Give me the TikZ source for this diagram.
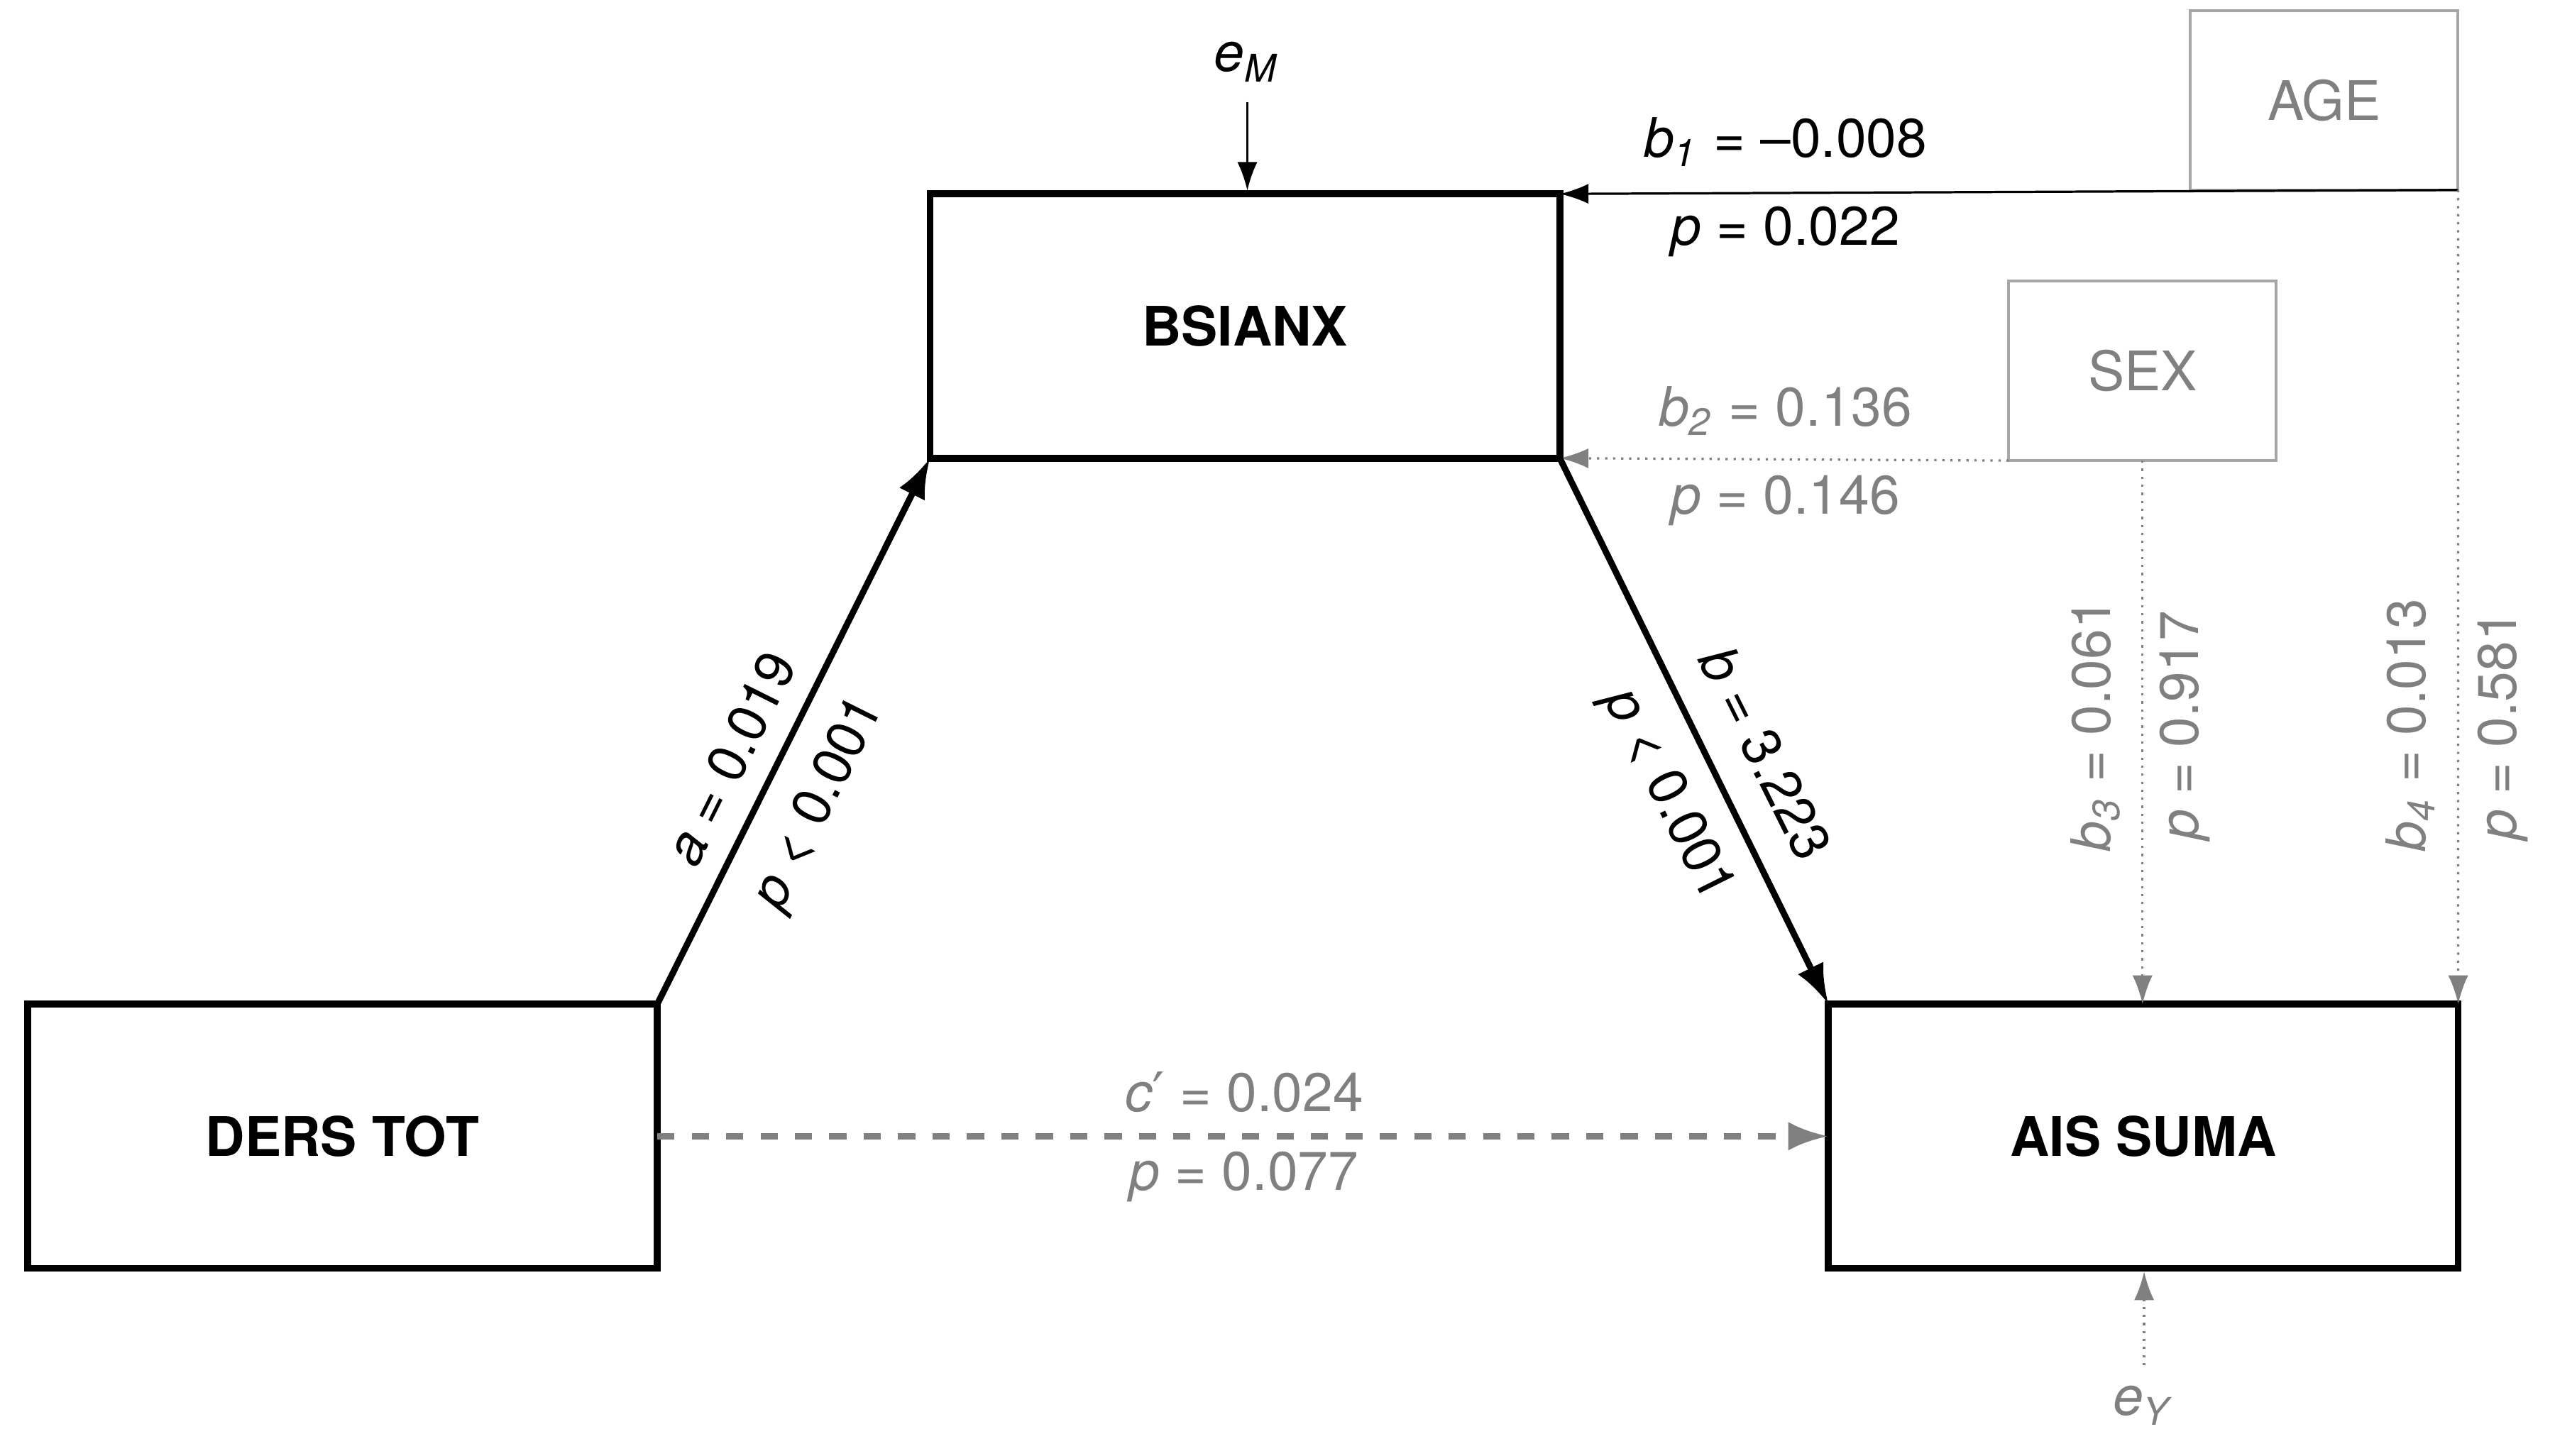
\documentclass[tikz,border=0pt]{standalone}
\usepackage{fontspec}
\setmainfont{TeX Gyre Heros}
\newfontfamily\djv{DejaVu Sans}
\usetikzlibrary{arrows.meta}
\definecolor{gr}{HTML}{808080}
\newcommand{\vi}[1]{\textit{#1}}
\newcommand{\vs}[2]{\textit{#1}\textsubscript{\textit{#2}}}
\begin{document}
\begin{tikzpicture}[x=0.01cm,y=-0.01cm,font=\fontsize{9.5}{11}\selectfont,
  mainbox/.style={draw,line width=1.2pt,minimum width=3.86cm,minimum height=1.62cm,inner sep=0pt,outer sep=0pt,font=\fontsize{9.5}{11}\selectfont\bfseries},
  covbox/.style={draw=gr!70,line width=0.5pt,minimum width=1.64cm,minimum height=1.10cm,inner sep=0pt,outer sep=0pt,text=gr},
  thick arr/.style={line width=1.1pt,-{Latex[length=7pt,width=5pt]}},
  thin arr/.style={line width=0.4pt,-{Latex[length=5pt,width=3.5pt]}},
  lbl/.style={inner sep=1pt}]
\useasboundingbox (0,0) rectangle (1567,893);
\node[mainbox] (M) at (763.5,200) {BSIANX};
\node[mainbox] (X) at (210,697) {DERS TOT};
\node[mainbox] (Y) at (1314.5,697) {AIS SUMA};
\node[covbox] (AGE) at (1425.5,61.5) {AGE};
\node[covbox] (SEX) at (1314,227.5) {SEX};
\node (eM) at (765,38) {\vs{e}{M}};
\node[text=gr] (eY) at (1315,862) {\vs{e}{Y}};
\coordinate (mtop) at (765,117);
\coordinate (ytop) at (1315,780);
\draw[thin arr] (eM.south) -- (mtop);
\draw[thin arr,gr,densely dotted] (eY.north) -- (ytop);
\draw[thin arr] (AGE.south east) -- (M.north east);
\draw[thin arr,gr,densely dotted] (SEX.south west) -- (M.south east);
\draw[thin arr,gr,densely dotted] (SEX.south) -- (SEX.south |- Y.north);
\draw[thin arr,gr,densely dotted] (AGE.south east) -- (Y.north east);
\draw[thick arr] (X.north east) -- (M.south west);
\draw[thick arr] (M.south east) -- (Y.north west);
\draw[line width=1.1pt,gr,dashed,-{Latex[length=7pt,width=5pt]}] (X.east) -- (Y.west);
\node[lbl] at (1095,87) {\vs{b}{1} = –0.008};
\node[lbl] at (1095,142) {\vi{p} = 0.022};
\node[lbl,text=gr] at (1095,252) {\vs{b}{2} = 0.136};
\node[lbl,text=gr] at (1095,307) {\vi{p} = 0.146};
\node[lbl,text=gr,rotate=90] at (1285,445) {\vs{b}{3} = 0.061};
\node[lbl,text=gr,rotate=90] at (1340,445) {\vi{p} = 0.917};
\node[lbl,text=gr,rotate=90] at (1478,445) {\vs{b}{4} = 0.013};
\node[lbl,text=gr,rotate=90] at (1535,445) {\vi{p} = 0.581};
\node[lbl,rotate=63.5] at (448,465) {\vi{a} = 0.019};
\node[lbl,rotate=63.5] at (503,493) {\vi{p} < 0.001};
\node[lbl,rotate=-63.5] at (1083,462) {\vi{b} = 3.223};
\node[lbl,rotate=-63.5] at (1022,488) {\vi{p} < 0.001};
\node[lbl,text=gr] at (763,670) {\vi{c}{\djv ′} = 0.024};
\node[lbl,text=gr] at (763,722) {\vi{p} = 0.077};
\end{tikzpicture}
\end{document}
